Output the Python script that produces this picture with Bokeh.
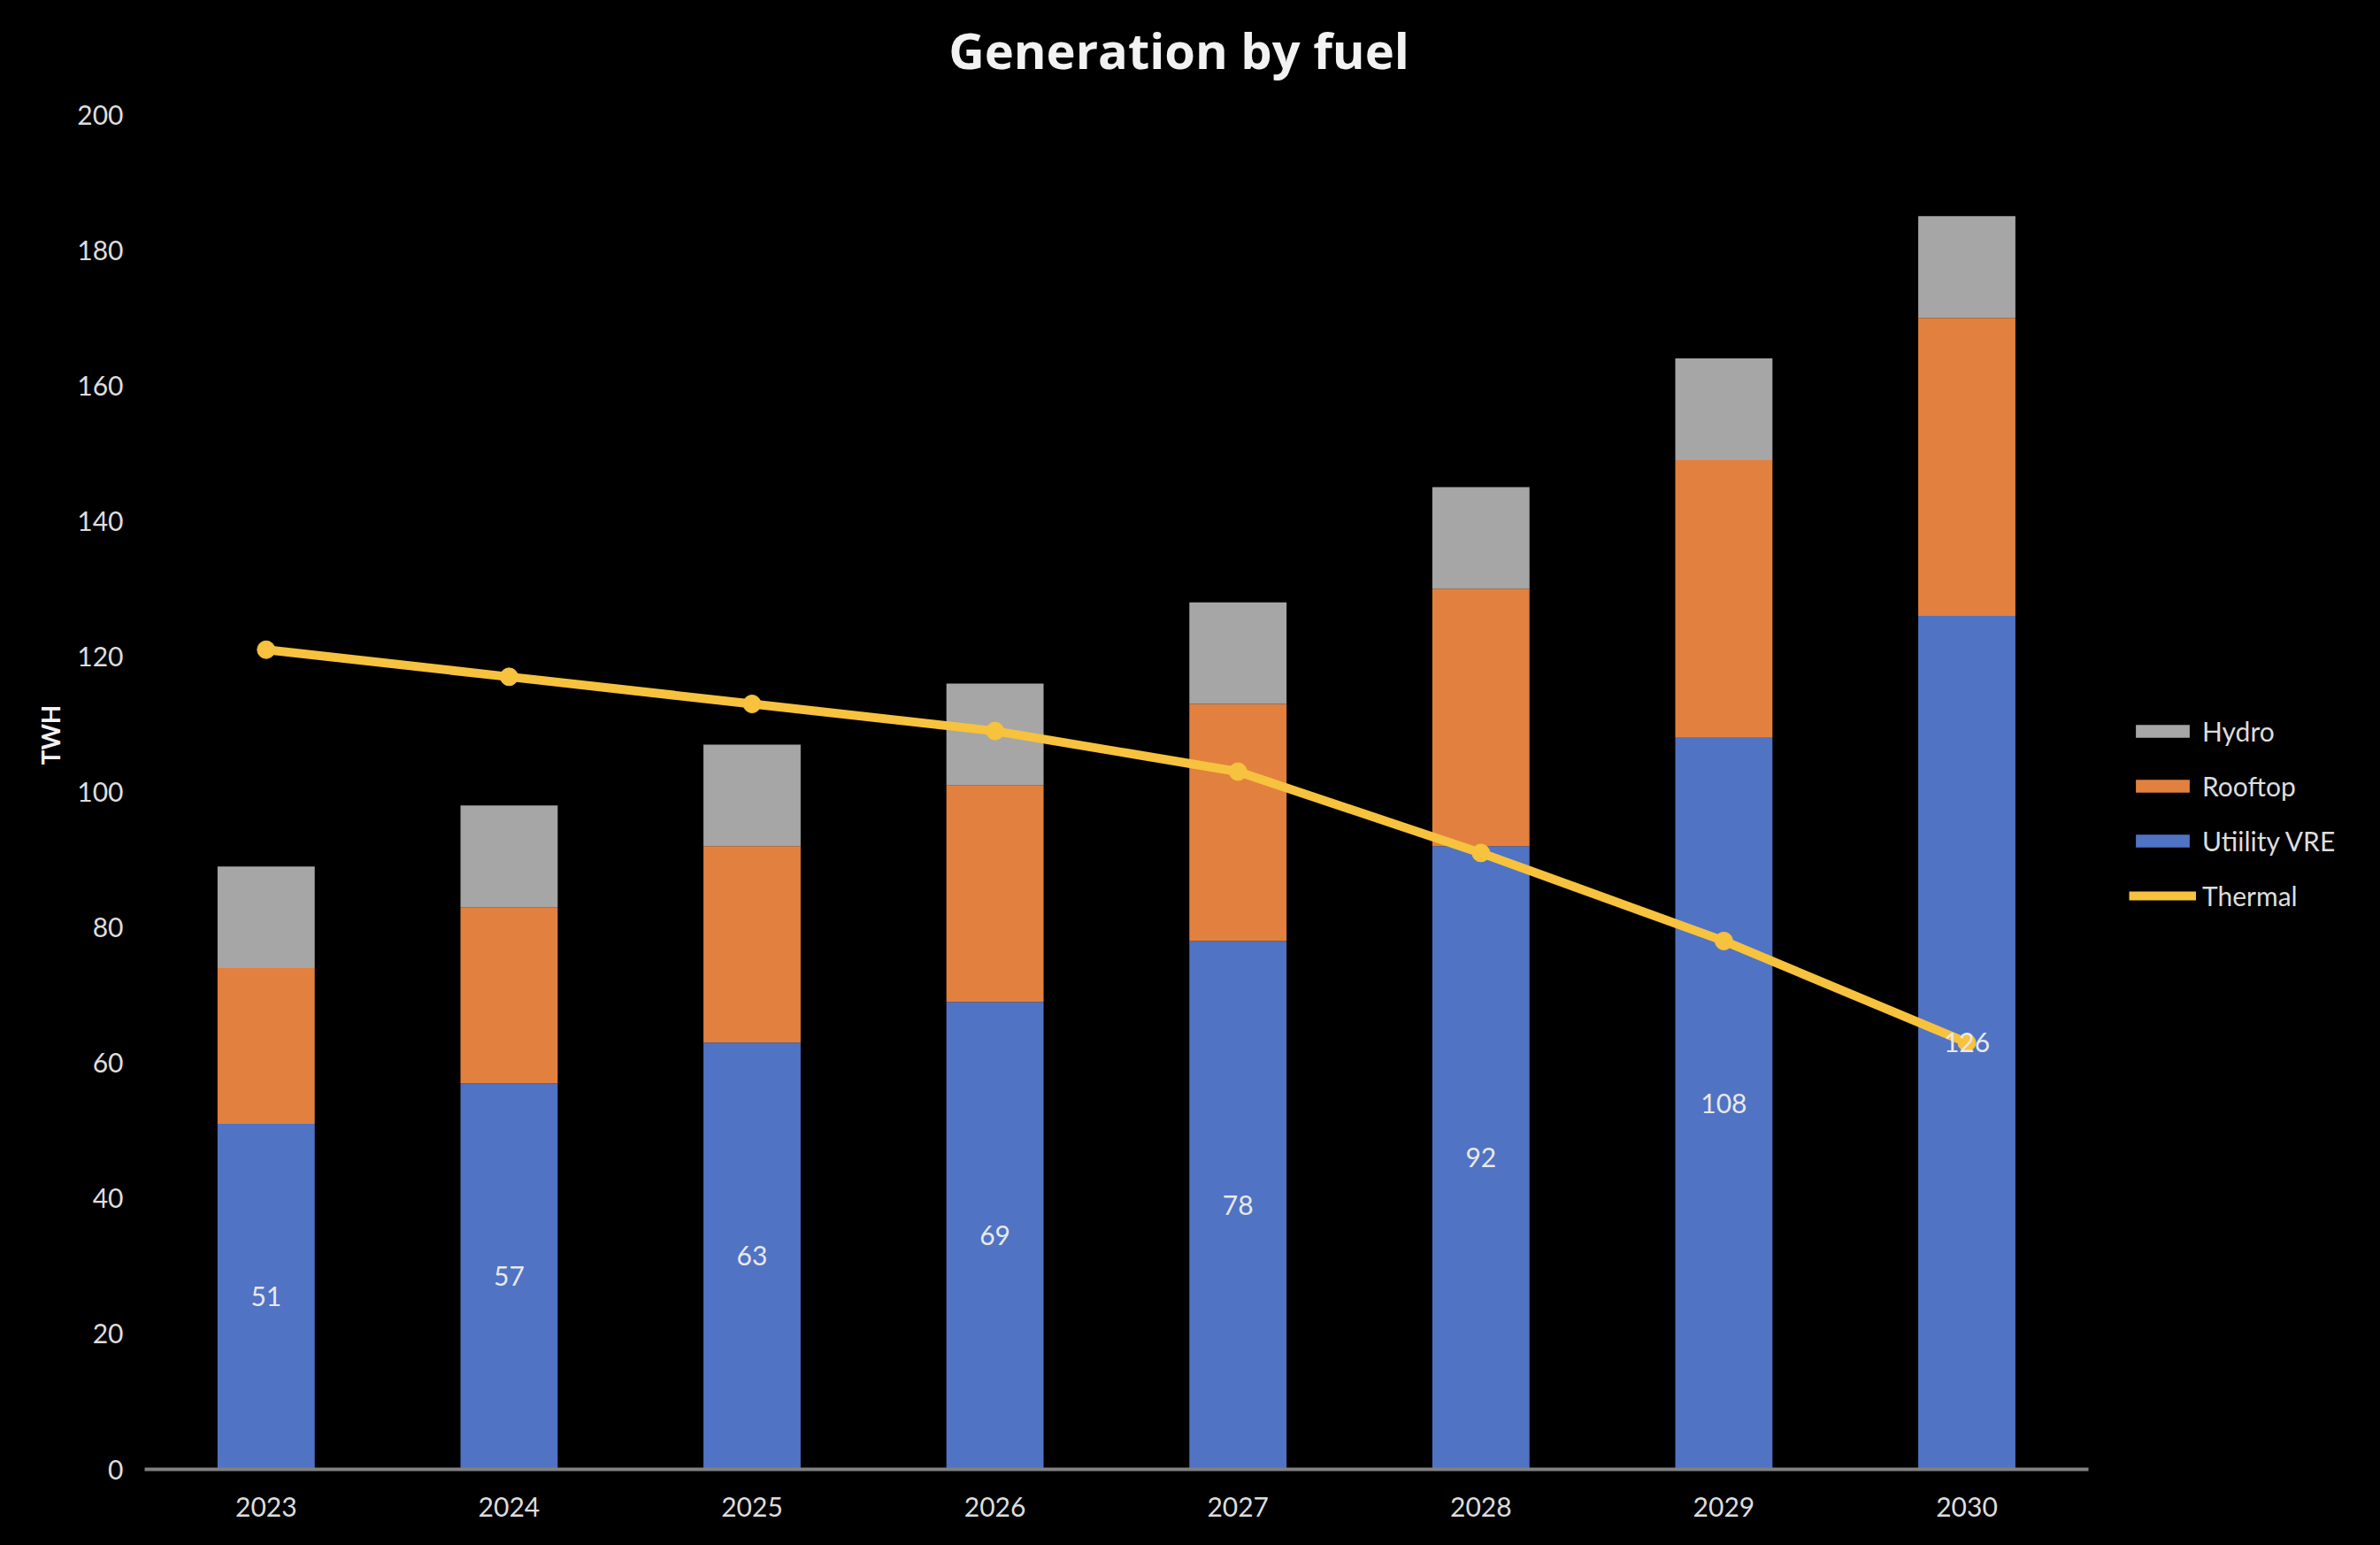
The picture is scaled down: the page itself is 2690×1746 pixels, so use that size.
from bokeh.plotting import figure
from bokeh.models import (ColumnDataSource, Range1d, FixedTicker, Legend,
                          LegendItem, Label)
from bokeh.core.properties import value
from bokeh.embed import file_html
from bokeh.resources import INLINE

years = ["2023", "2024", "2025", "2026", "2027", "2028", "2029", "2030"]
utility_vre = [51, 57, 63, 69, 78, 92, 108, 126]
rooftop = [23, 26, 29, 32, 35, 38, 41, 44]
hydro = [15, 15, 15, 15, 15, 15, 15, 15]
thermal = [121, 117, 113, 109, 103, 91, 78, 63]
y_ticks = [0, 20, 40, 60, 80, 100, 120, 140, 160, 180, 200]

FONT = "Lato"
BLUE = "#5073C4"
ORANGE = "#E2813F"
GRAY = "#A6A6A6"
GOLD = "#F7C23E"
TXT = "#DDDDDD"

# layout (pixels)
W, H = 2674, 1730
LEFT, BOTTOM = 163, 70
CAT_PX = 274.6          # width of one category slot
PX_PER_UNIT = 7.655     # vertical pixels per TWh
FRAME_W = W - LEFT
FRAME_H = H - BOTTOM

xpos = [i + 0.5 for i in range(len(years))]
src = ColumnDataSource(dict(
    x=xpos, years=years, utility=utility_vre, rooftop=rooftop, hydro=hydro,
    thermal=thermal,
    label_y=[u / 2 for u in utility_vre],
    label_txt=[str(u) for u in utility_vre],
))

p = figure(width=W, height=H,
           x_range=Range1d(0, FRAME_W / CAT_PX),
           y_range=Range1d(0, FRAME_H / PX_PER_UNIT),
           output_backend="svg", toolbar_location=None,
           min_border_left=LEFT, min_border_right=0, min_border_top=0,
           min_border_bottom=BOTTOM)
p.background_fill_color = "black"
p.border_fill_color = "black"
p.outline_line_color = None
p.xgrid.grid_line_color = None
p.ygrid.grid_line_color = None

renderers = p.vbar_stack(["utility", "rooftop", "hydro"], x="x", width=0.4,
                         color=[BLUE, ORANGE, GRAY], line_color=None, source=src)

ln = p.line("x", "thermal", source=src, line_width=10, line_color=GOLD)
mk = p.scatter("x", "thermal", source=src, size=20, fill_color=GOLD,
               line_color=GOLD)

p.text("x", "label_y", text="label_txt", source=src, text_align="center",
       text_baseline="middle", text_color="#E8E8E8", text_font=value(FONT),
       text_font_size="30px")

title = Label(x=1169, y=FRAME_H - 55, x_units="screen", y_units="screen",
              text="Generation by fuel", text_align="center",
              text_baseline="middle", text_font="Open Sans",
              text_font_size="56px", text_font_style="bold",
              text_color="#F2F2F2")
p.add_layout(title)

p.yaxis.ticker = FixedTicker(ticks=y_ticks)
p.yaxis.axis_line_color = None
p.yaxis.major_tick_line_color = None
p.yaxis.minor_tick_line_color = None
p.yaxis.major_label_text_color = TXT
p.yaxis.major_label_text_font = FONT
p.yaxis.major_label_text_font_size = "30px"
p.yaxis.major_label_standoff = 18
p.yaxis.axis_label = "TWH"
p.yaxis.axis_label_text_font = FONT
p.yaxis.axis_label_text_font_size = "28px"
p.yaxis.axis_label_text_font_style = "bold"
p.yaxis.axis_label_text_color = "#F2F2F2"
p.yaxis.axis_label_standoff = 10

p.xaxis.ticker = FixedTicker(ticks=xpos)
p.xaxis.major_label_overrides = {x: y for x, y in zip(xpos, years)}
p.xaxis.bounds = (0, len(years))
p.xaxis.axis_line_color = "#808080"
p.xaxis.axis_line_width = 4
p.xaxis.major_tick_line_color = None
p.xaxis.minor_tick_line_color = None
p.xaxis.major_label_text_color = TXT
p.xaxis.major_label_text_font = FONT
p.xaxis.major_label_text_font_size = "30px"
p.xaxis.major_label_standoff = 25

legend = Legend(items=[
    LegendItem(label="Hydro", renderers=[renderers[2]]),
    LegendItem(label="Rooftop", renderers=[renderers[1]]),
    LegendItem(label="Utiility VRE", renderers=[renderers[0]]),
    LegendItem(label="Thermal", renderers=[ln, mk]),
], location=(2243, 630), orientation="vertical")
legend.background_fill_alpha = 0
legend.border_line_color = None
legend.label_text_color = TXT
legend.label_text_font = FONT
legend.label_text_font_size = "30px"
legend.glyph_width = 76
legend.glyph_height = 18
legend.label_height = 18
legend.spacing = 26
legend.padding = 0
legend.margin = 0
legend.label_standoff = 7
p.add_layout(legend, "center")

html = file_html(p, INLINE)
html = html.replace("<body", '<body style="background-color:#000000;"', 1)
html = html.replace("</head>",
                    "<style>html, body, body div { background-color: #000000; }</style></head>", 1)
open("out.html", "w").write(html)
